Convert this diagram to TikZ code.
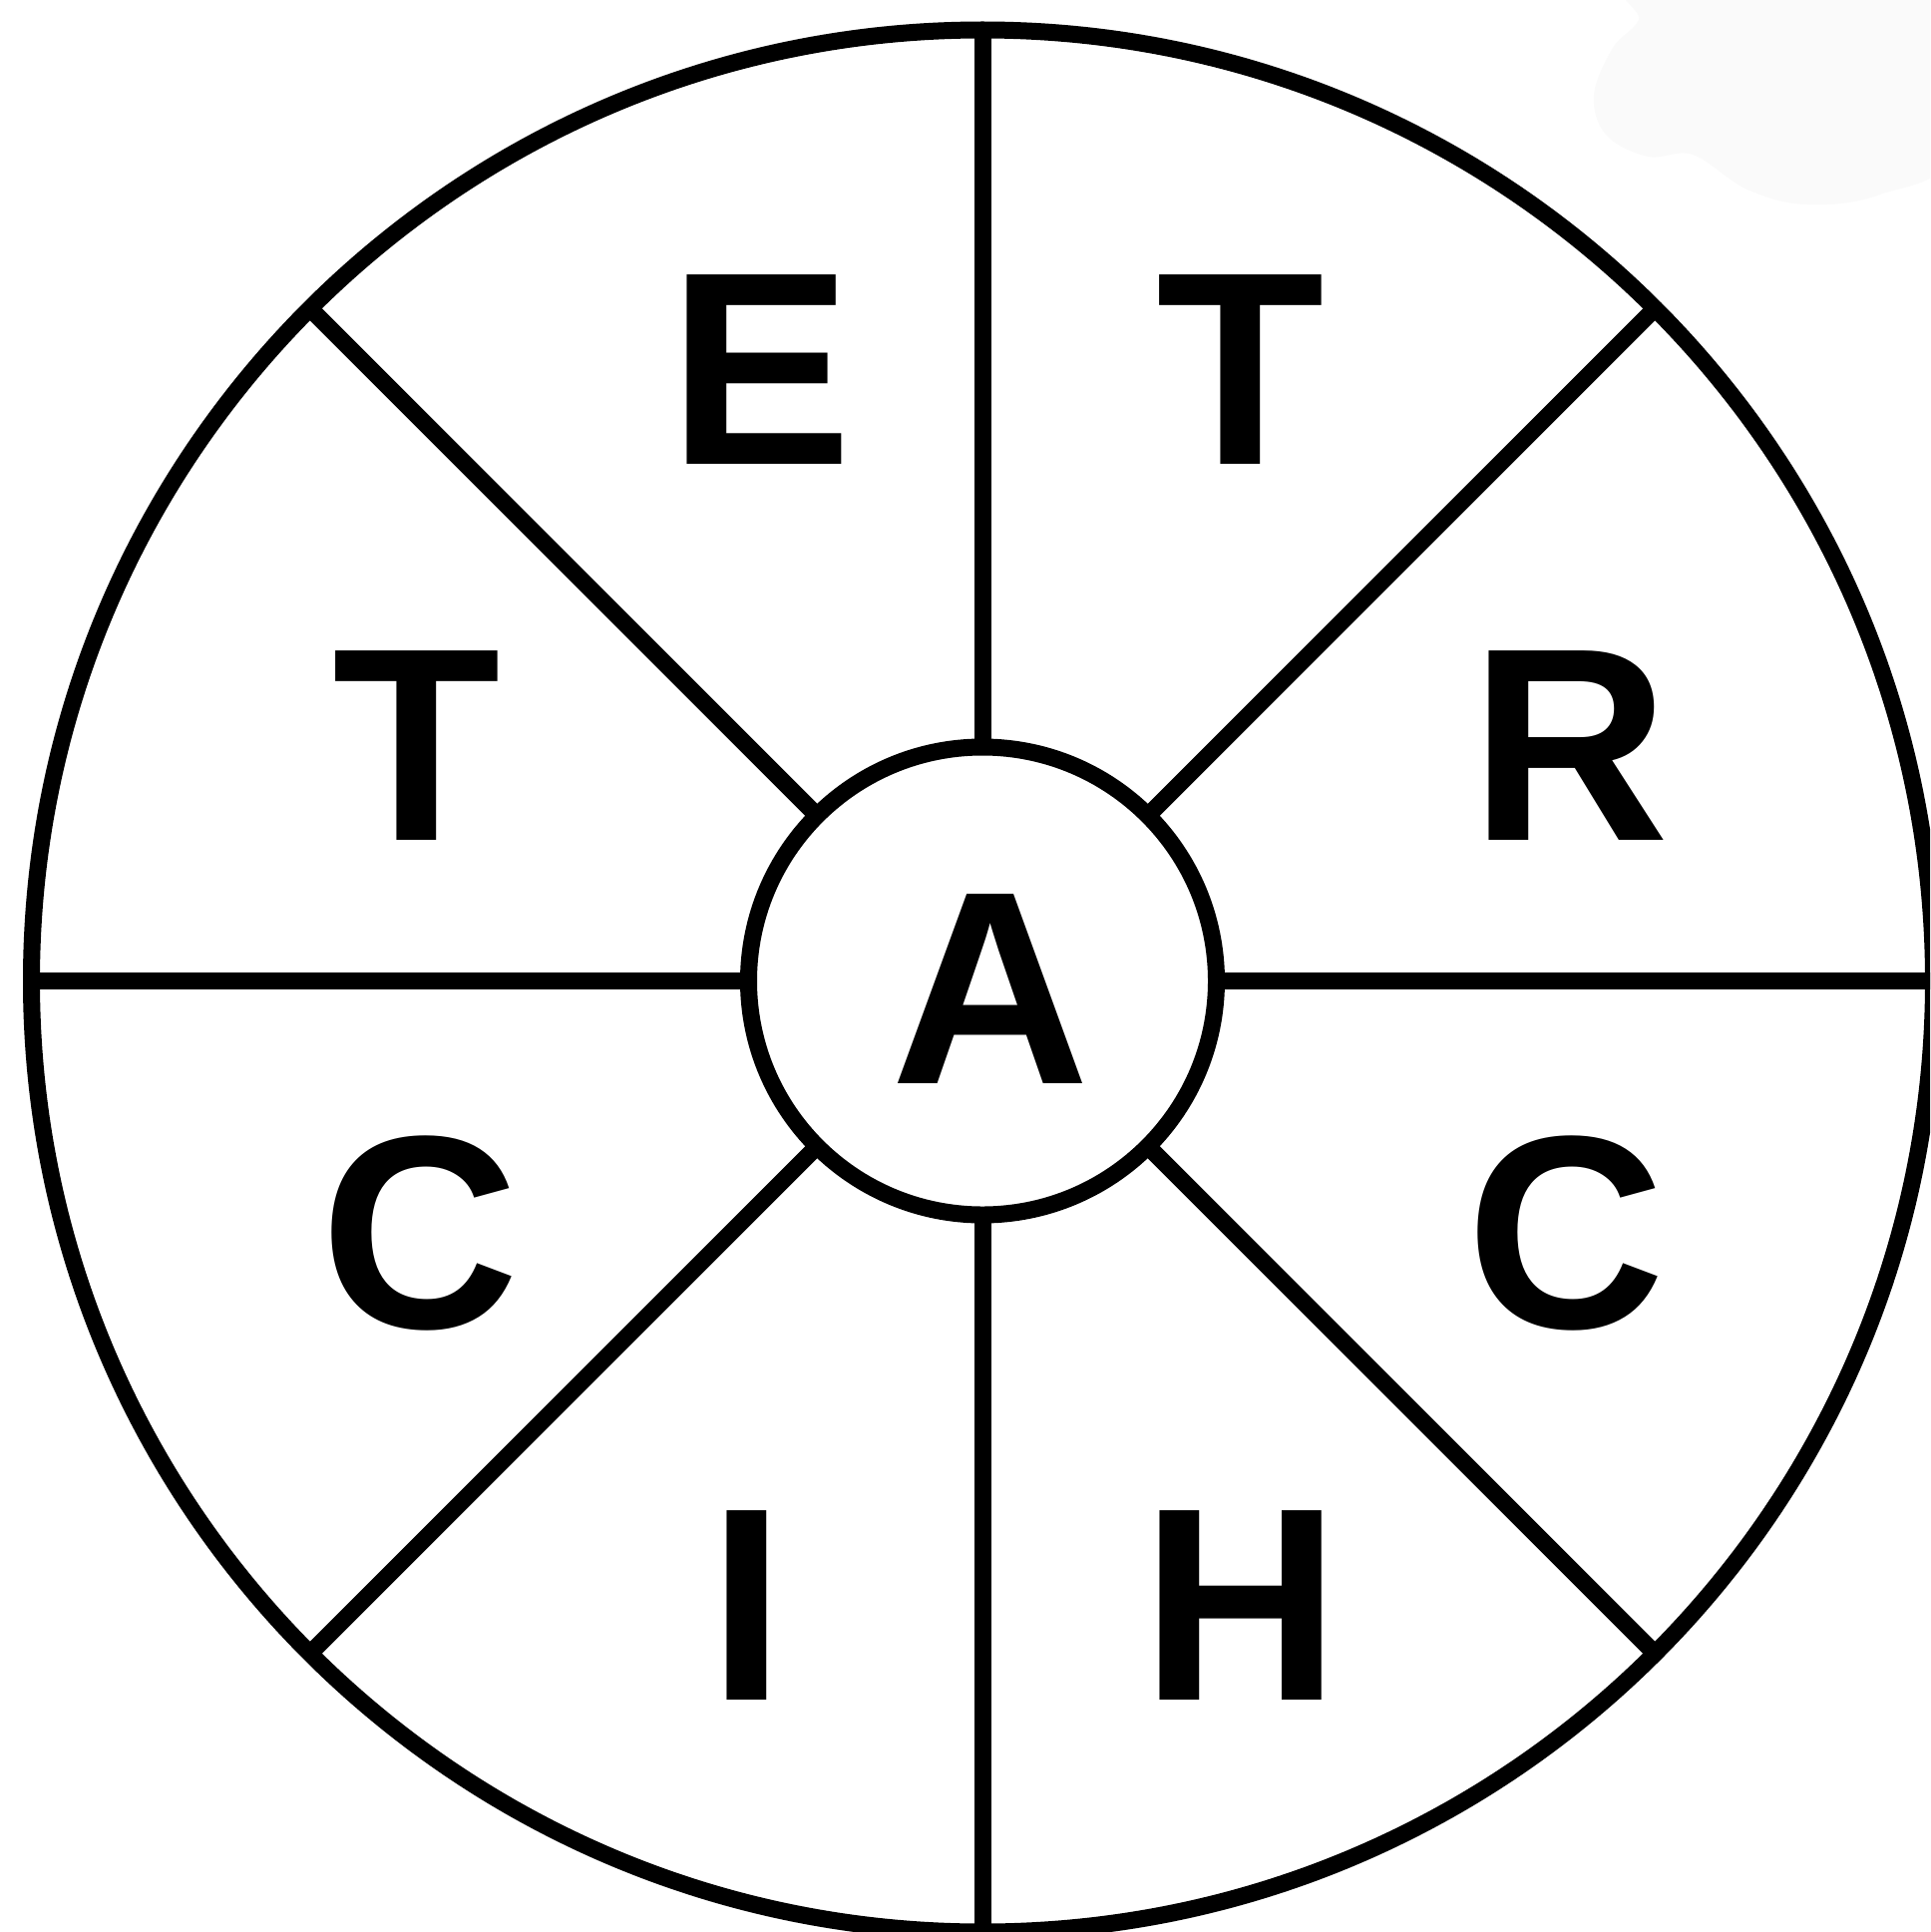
\documentclass[tikz,border=0pt]{standalone}
\usepackage{fontspec}
\setmainfont{Liberation Sans}
\begin{document}
\begin{tikzpicture}[x=1pt,y=-1pt,
  ring/.style={circle,draw=black,line width=17pt,inner sep=0pt,outer sep=0pt},
  spoke/.style={draw=black,line width=17pt},
  letter/.style={inner sep=0pt,outer sep=0pt,anchor=center,font=\fontsize{276}{300}\selectfont\bfseries},
  blob/.style={fill=black!2,draw=none}]
\useasboundingbox (0,0) rectangle (1935,1937);
\clip (0,0) rectangle (1935,1937);
\fill[white] (0,0) rectangle (1935,1937);
\fill[blob] plot[smooth cycle,tension=0.6] coordinates{(1650,-20) (1643,20) (1617,48) (1598,95) (1610,135) (1652,157) (1697,155) (1752,190) (1812,205) (1885,195) (1960,150) (1960,-20)};
\node[ring,minimum size=1907pt] (rim) at (985,983.5) {};
\node[ring,minimum size=469pt] (hub) at (985,983.5) {};
\foreach \a in {0,45,...,315}{
  \draw[spoke] (hub.\a) -- (rim.\a);
}
\node[letter] (lE) at (762.5,371) {E};
\node[letter] (lT1) at (1243.5,371) {T};
\node[letter] (lT2) at (418,748) {T};
\node[letter] (lR) at (1574,748) {R};
\node[letter] (lA) at (993,992) {A};
\node[letter] (lC1) at (421,1236) {C};
\node[letter] (lC2) at (1570,1236) {C};
\node[letter] (lI) at (749,1610) {I};
\node[letter] (lH) at (1244,1610) {H};
\end{tikzpicture}
\end{document}
